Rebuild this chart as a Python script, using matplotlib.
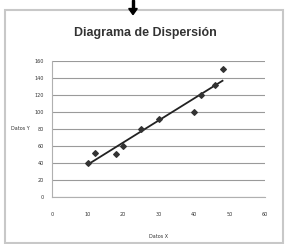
import matplotlib
matplotlib.use('Agg')
import matplotlib.pyplot as plt
import numpy as np

datos_x = [10, 12, 18, 20, 25, 30, 40, 42, 46, 48]
datos_y = [40, 52, 50, 60, 80, 92, 100, 120, 132, 150]
x_ticks = [0, 10, 20, 30, 40, 50, 60]
y_ticks = [0, 20, 40, 60, 80, 100, 120, 140, 160]

fig = plt.figure(figsize=(2.86, 2.44), dpi=100)

# marco del grafico y flecha superior
fig.patches.append(plt.Rectangle((0.018, 0.004), 0.972, 0.953, transform=fig.transFigure,
                                 fill=False, edgecolor='#c8c8c8', linewidth=1.5))
fig.patches.append(plt.Rectangle((0.461, 0.955), 0.008, 0.045, transform=fig.transFigure,
                                 color='black'))
fig.patches.append(plt.Polygon([[0.45, 0.965], [0.48, 0.965], [0.465, 0.94]],
                               transform=fig.transFigure, color='black'))

ax = fig.add_axes([0.182, 0.193, 0.745, 0.557])
ax.grid(axis='y', color='#9a9a9a', linewidth=0.8)
ax.set_axisbelow(True)

# linea de tendencia lineal
m, b = np.polyfit(datos_x, datos_y, 1)
xs = np.array([min(datos_x), max(datos_x)])
ax.plot(xs, m * xs + b, color='#222222', linewidth=1.3)
ax.scatter(datos_x, datos_y, marker='D', s=8, color='#333333', zorder=3)

ax.set_xlim(0, 60)
ax.set_ylim(0, 160)
ax.set_xticks(x_ticks)
ax.set_yticks(y_ticks)
ax.tick_params(axis='x', labelsize=3.5, length=0, pad=11, colors='#333333')
ax.tick_params(axis='y', labelsize=3.5, length=0, pad=6, colors='#333333')
for s in ['top', 'right']:
    ax.spines[s].set_visible(False)
ax.spines['left'].set_color('#b0b0b0')
ax.spines['bottom'].set_color('#b0b0b0')

fig.text(0.51, 0.865, 'Diagrama de Dispersión', fontsize=8.9, fontweight='bold',
         color='#333333', ha='center', va='center', family='Liberation Sans')
ax.set_xlabel('Datos X', fontsize=3.5, color='#333333', labelpad=12)
ax.set_ylabel('Datos Y', fontsize=3.5, color='#333333', rotation=0, labelpad=10, va='center')

fig.savefig('out.png', dpi=100)
